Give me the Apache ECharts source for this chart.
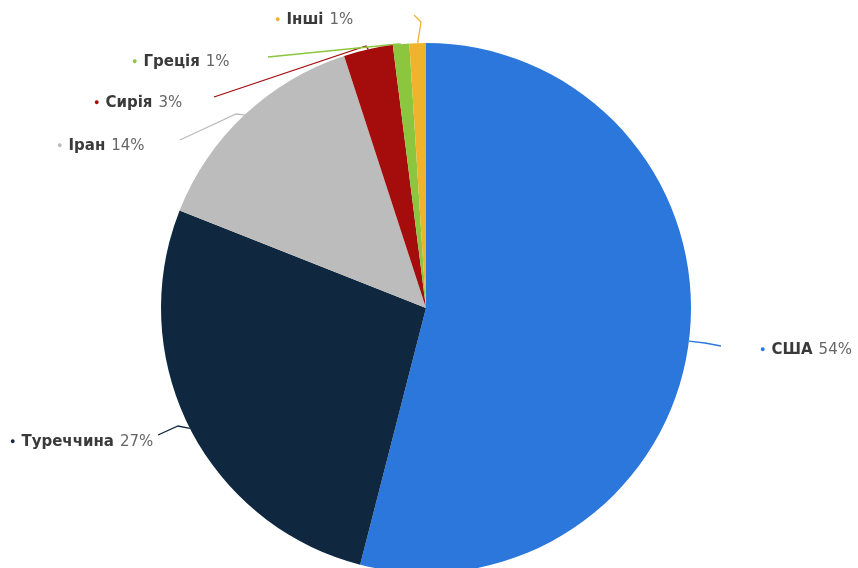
<!DOCTYPE html>
<html><head><meta charset="utf-8">
<script src="https://cdn.jsdelivr.net/npm/echarts@6/dist/echarts.min.js"></script>
<style>html,body{margin:0;padding:0;background:#fff}#c{width:858px;height:568px}</style>
</head><body><div id="c"></div>
<script>
const categories = ['США', 'Туреччина', 'Іран', 'Сирія', 'Греція', 'Інші'];
const values = [54, 27, 14, 3, 1, 1];
const colors = ['#2b77dc', '#0f2840', '#bcbcbc', '#a50d0d', '#8cc63e', '#efb42c'];

// label placement (layout config)
const labelPos = [
  {x: 760, y: 350}, {x: 10, y: 442}, {x: 57, y: 146}, {x: 94, y: 103}, {x: 132, y: 62}, {x: 275, y: 20}
];
const lineEnds = [
  [[705, 343], [721, 346]],
  [[178, 426], [158, 435]],
  [[236, 114], [180, 140]],
  [[366, 46], [214, 97]],
  [[398, 44], [268, 57]],
  [[421, 22], [414, 15]]
];

const chart = echarts.init(document.getElementById('c'));
chart.setOption({
  animation: false,
  series: [{
    type: 'pie',
    center: [426, 308],
    radius: 265,
    startAngle: 90,
    clockwise: true,
    data: categories.map((n, i) => ({
      name: n, value: values[i],
      itemStyle: {color: colors[i]},
      labelLine: {lineStyle: {color: colors[i]}},
      label: {rich: {dot: {color: colors[i]}}}
    })),
    label: {
      show: true,
      overflow: 'none',
      formatter: '{dot|●}{name|{b}}{val|{d}%}',
      rich: {
        dot: {fontSize: 9, padding: [0, 6, 0, 0]},
        name: {fontFamily: 'DejaVu Sans', fontWeight: 'bold', fontSize: 15, color: '#3a3a3a', padding: [0, 6, 0, 0]},
        val: {fontFamily: 'DejaVu Sans', fontSize: 15, color: '#666'}
      }
    },
    labelLine: {show: true, length: 15, length2: 20, lineStyle: {width: 1.3}},
    labelLayout: function (p) {
      const i = p.dataIndex;
      const pos = labelPos[i];
      const start = p.labelLinePoints ? p.labelLinePoints[0] : lineEnds[i][0];
      return {
        x: pos.x, y: pos.y, align: 'left', verticalAlign: 'middle',
        labelLinePoints: [start, lineEnds[i][0], lineEnds[i][1]]
      };
    }
  }]
});
</script></body></html>
